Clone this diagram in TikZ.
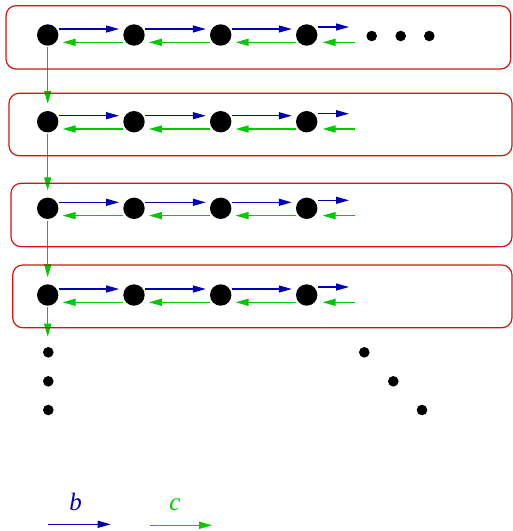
\documentclass[tikz,border=0pt]{standalone}
\usepackage{fontspec}
\setmainfont{Liberation Serif}
\usetikzlibrary{arrows.meta,calc}
\definecolor{fblue}{RGB}{0,0,180}
\definecolor{fgreen}{RGB}{0,200,0}
\definecolor{fred}{RGB}{210,20,20}
\begin{document}
\begin{tikzpicture}[x=1pt,y=-1pt,
  bignode/.style={circle,fill=black,inner sep=0pt,minimum size=21.4pt},
  smalldot/.style={circle,fill=black,inner sep=0pt,minimum size=10.6pt},
  rowbox/.style={draw=fred,line width=1.2pt,rounded corners=10pt},
  barrow/.style={draw=fblue,line width=1.3pt,-{Triangle[length=13pt,width=7pt]}},
  garrow/.style={draw=fgreen,line width=1.3pt,-{Triangle[length=13pt,width=7pt]}},
  lbl/.style={font=\fontsize{25}{30}\selectfont\itshape,anchor=base}]
\useasboundingbox (0,0) rectangle (513,531);
% nodes
\foreach \r/\y in {1/35,2/121.7,3/208.3,4/295}{
  \node[bignode] (n\r1) at (47.7,\y) {};
  \node[bignode] (n\r2) at (134,\y) {};
  \node[bignode] (n\r3) at (220.7,\y) {};
  \node[bignode] (n\r4) at (306.7,\y) {};
  \coordinate (bo\r) at ($(n\r4)+(42.3,-8)$);
  \coordinate (go\r) at ($(n\r4)+(48.3,7.3)$);
}
% horizontal arrows
\foreach \r in {1,2,3,4}{
  \foreach \c/\d in {1/2,2/3,3/4}{
    \draw[barrow,shorten >=4pt] ([yshift=6pt]n\r\c.east) -- ([yshift=6pt]n\r\d.west);
    \draw[garrow,shorten >=4pt] ([yshift=-7.3pt]n\r\d.west) -- ([yshift=-7.3pt]n\r\c.east);
  }
  \draw[barrow] ([yshift=8pt]n\r4.east) -- (bo\r);
  \draw[garrow,shorten >=5pt] (go\r) -- ([yshift=-7.3pt]n\r4.east);
}
% dots
\node[smalldot] (d1) at (371.7,36) {};
\node[smalldot] (d2) at (400.7,36) {};
\node[smalldot] (d3) at (429.3,36) {};
\node[smalldot] (l1) at (48.3,352.3) {};
\node[smalldot] (l2) at (48.3,381.3) {};
\node[smalldot] (l3) at (48.3,410) {};
\node[smalldot] (r1) at (364.3,352.3) {};
\node[smalldot] (r2) at (393.3,381.3) {};
\node[smalldot] (r3) at (422,410) {};
% vertical arrows
\coordinate (vend) at (47.7,336.7);
\draw[garrow,shorten <=1.5pt,shorten >=7pt] (n11.south) -- (n21.north);
\draw[garrow,shorten <=1.5pt,shorten >=7pt] (n21.south) -- (n31.north);
\draw[garrow,shorten <=1.5pt,shorten >=7pt] (n31.south) -- (n41.north);
\draw[garrow,shorten <=1.5pt] (n41.south) -- (vend);
% boxes
\draw[rowbox] (6,5.7) rectangle (510.7,69);
\draw[rowbox] (9,93.3) rectangle (512,155.7);
\draw[rowbox] (11,183.3) rectangle (512,246.7);
\draw[rowbox] (12.7,265) rectangle (512,327.7);
% legend
\coordinate (bs) at (48.3,524.3);
\coordinate (be) at (110.7,524.3);
\coordinate (gs) at (150,525.3);
\coordinate (ge) at (212,525.3);
\draw[barrow] (bs) -- (be);
\draw[garrow] (gs) -- (ge);
\node[lbl,text=fblue] (lb) at (75.5,510) {b};
\node[lbl,text=fgreen] (lc) at (175,510) {c};
\end{tikzpicture}
\end{document}
